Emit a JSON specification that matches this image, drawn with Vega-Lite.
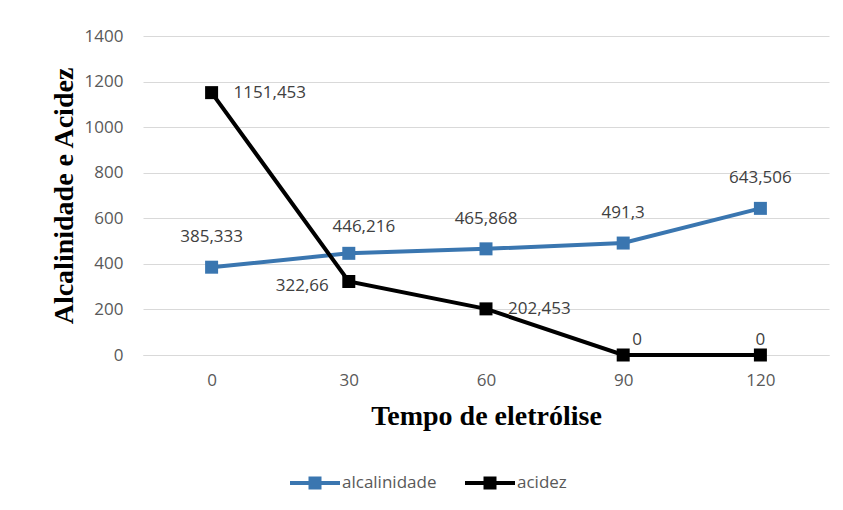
{
  "$schema": "https://vega.github.io/schema/vega-lite/v6.json",
  "width": 686,
  "height": 319,
  "autosize": "none",
  "padding": {"left": 143, "top": 36, "right": 14, "bottom": 155},
  "background": "white",
  "config": {
    "view": {"stroke": null},
    "locale": {"number": {"decimal": ",", "thousands": ".", "grouping": [3], "currency": ["", ""]}},
    "axis": {"labelFont": "Open Sans", "labelFontSize": 17, "labelColor": "#595959", "titleFont": "Liberation Serif", "titleFontWeight": "bold", "titleFontSize": 28, "titleColor": "#000000", "ticks": false}
  },
  "data": {
    "values": [
      {"tempo": 0, "serie": "alcalinidade", "valor": 385.333},
      {"tempo": 30, "serie": "alcalinidade", "valor": 446.216},
      {"tempo": 60, "serie": "alcalinidade", "valor": 465.868},
      {"tempo": 90, "serie": "alcalinidade", "valor": 491.3},
      {"tempo": 120, "serie": "alcalinidade", "valor": 643.506},
      {"tempo": 0, "serie": "acidez", "valor": 1151.453},
      {"tempo": 30, "serie": "acidez", "valor": 322.66},
      {"tempo": 60, "serie": "acidez", "valor": 202.453},
      {"tempo": 90, "serie": "acidez", "valor": 0},
      {"tempo": 120, "serie": "acidez", "valor": 0}
    ]
  },
  "encoding": {
    "x": {
      "field": "tempo", "type": "ordinal",
      "scale": {"type": "point", "padding": 0.5},
      "axis": {"title": "Tempo de eletrólise", "labelAngle": 0, "labelPadding": 17, "titlePadding": 14, "domain": true, "domainColor": "#d9d9d9", "grid": false}
    },
    "y": {
      "field": "valor", "type": "quantitative",
      "scale": {"domain": [0, 1400], "nice": false},
      "axis": {"title": "Alcalinidade e Acidez", "format": "d", "values": [0, 200, 400, 600, 800, 1000, 1200, 1400], "domain": false, "grid": true, "gridColor": "#d9d9d9", "gridWidth": 1.2, "labelPadding": 20, "titlePadding": 6}
    },
    "color": {
      "field": "serie", "type": "nominal",
      "scale": {"domain": ["alcalinidade", "acidez"], "range": ["#3A76B0", "#000000"]},
      "legend": {
        "title": null, "orient": "none", "direction": "horizontal",
        "legendX": 147, "legendY": 422, "padding": 0,
        "symbolType": "M-1,-0.08H1V0.08H-1Z M-0.26,-0.26H0.26V0.26H-0.26Z",
        "symbolSize": 2500, "symbolStrokeWidth": 0, "symbolOpacity": 1,
        "labelFont": "Open Sans", "labelFontSize": 17, "labelColor": "#595959",
        "labelOffset": 2, "columnPadding": 28,
        "encode": {"symbols": {"update": {"fill": {"scale": "color", "field": "value"}, "stroke": {"value": "transparent"}}}}
      }
    }
  },
  "layer": [
    {"mark": {"type": "line", "strokeWidth": 4}},
    {"mark": {"type": "point", "shape": "square", "filled": true, "size": 169, "opacity": 1}},
    {
      "transform": [{"filter": "datum.serie == 'alcalinidade' && datum.tempo != 30"}],
      "mark": {"type": "text", "font": "Open Sans", "fontSize": 17, "dy": -30, "align": "center"},
      "encoding": {"text": {"field": "valor", "type": "quantitative", "format": "~f"}, "color": {"value": "#404040"}}
    },
    {
      "transform": [{"filter": "datum.serie == 'alcalinidade' && datum.tempo == 30"}],
      "mark": {"type": "text", "font": "Open Sans", "fontSize": 17, "dx": 15, "dy": -26, "align": "center"},
      "encoding": {"text": {"field": "valor", "type": "quantitative", "format": "~f"}, "color": {"value": "#404040"}}
    },
    {
      "transform": [{"filter": "datum.serie == 'acidez' && (datum.tempo == 0 || datum.tempo == 60)"}],
      "mark": {"type": "text", "font": "Open Sans", "fontSize": 17, "dx": 22, "dy": 0, "align": "left"},
      "encoding": {"text": {"field": "valor", "type": "quantitative", "format": "~f"}, "color": {"value": "#404040"}}
    },
    {
      "transform": [{"filter": "datum.serie == 'acidez' && datum.tempo == 30"}],
      "mark": {"type": "text", "font": "Open Sans", "fontSize": 17, "dx": -20, "dy": 5, "align": "right"},
      "encoding": {"text": {"field": "valor", "type": "quantitative", "format": "~f"}, "color": {"value": "#404040"}}
    },
    {
      "transform": [{"filter": "datum.serie == 'acidez' && datum.tempo == 90"}],
      "mark": {"type": "text", "font": "Open Sans", "fontSize": 17, "dx": 14, "dy": -15, "align": "center"},
      "encoding": {"text": {"field": "valor", "type": "quantitative", "format": "~f"}, "color": {"value": "#404040"}}
    },
    {
      "transform": [{"filter": "datum.serie == 'acidez' && datum.tempo == 120"}],
      "mark": {"type": "text", "font": "Open Sans", "fontSize": 17, "dx": 0, "dy": -15, "align": "center"},
      "encoding": {"text": {"field": "valor", "type": "quantitative", "format": "~f"}, "color": {"value": "#404040"}}
    }
  ]
}
